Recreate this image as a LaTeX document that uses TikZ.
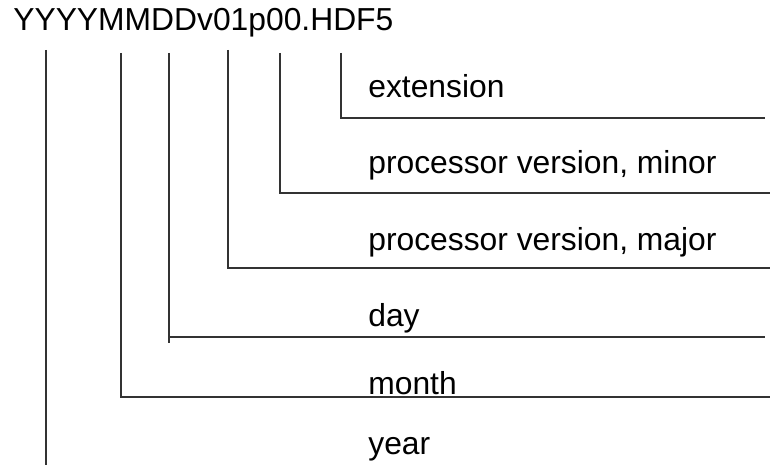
\documentclass[tikz,border=0pt]{standalone}
\usepackage{fontspec}
\setmainfont{Liberation Sans}
\tikzset{
	lead/.style={draw=black!80, line width=0.6pt, solid},
	field/.style={black, anchor=base west, inner sep=0pt, font=\fontsize{18.1}{21}\selectfont}
}
\begin{document}
\begin{tikzpicture}
	\useasboundingbox (0.00,0.00) rectangle (15.40,9.30);
	\node[field] (name) at (0.26,8.68) {YYYYMMDDv01p00.HDF5};
	% field labels
	\node[field] (ext) at (7.36,7.34) {extension};
	\node[field] (minor) at (7.36,5.82) {processor version, minor};
	\node[field] (major) at (7.36,4.28) {processor version, major};
	\node[field] (day) at (7.36,2.76) {day};
	\node[field] (month) at (7.36,1.40) {month};
	\node[field] (year) at (7.36,0.20) {year};
	% leader ends
	\coordinate (extR) at (15.30,6.94);
	\coordinate (minorR) at (15.40,5.44);
	\coordinate (majorR) at (15.40,3.94);
	\coordinate (dayR) at (15.30,2.56);
	\coordinate (monthR) at (15.40,1.36);
	\coordinate (yearB) at (0.92,0.00);
	% leaders
	\draw[lead] (6.82,8.24) |- (extR);
	\draw[lead] (5.60,8.24) |- (minorR);
	\draw[lead] (4.56,8.30) |- (majorR);
	\draw[lead] (3.38,8.24) -- (3.38,2.44);
	\draw[lead] (3.38,2.56) -- (dayR);
	\draw[lead] (2.42,8.24) |- (monthR);
	\draw[lead] (0.92,8.30) -- (yearB);
\end{tikzpicture}
\end{document}
